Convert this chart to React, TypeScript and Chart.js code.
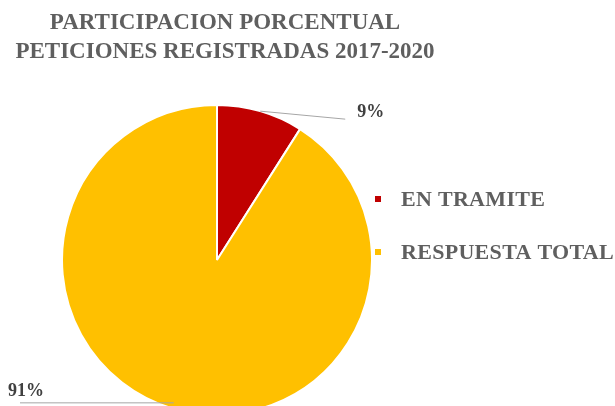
import React, { useEffect, useRef } from "react";
import { Chart, registerables } from "chart.js";

Chart.register(...registerables);

const titleLines = ["PARTICIPACION PORCENTUAL", "PETICIONES REGISTRADAS 2017-2020"];
const categories = ["EN TRAMITE", "RESPUESTA TOTAL"];
const values = [9, 91];
const colors = ["#C00000", "#FFC000"];

const FONT = "'Liberation Serif', 'DejaVu Serif', serif";

const decorPlugin = {
  id: "decor",
  afterDraw(chart: any) {
    const ctx = chart.ctx;
    ctx.save();
    // title
    ctx.fillStyle = "#5f5f5f";
    ctx.font = `bold 23px ${FONT}`;
    ctx.textAlign = "center";
    ctx.textBaseline = "middle";
    titleLines.forEach((t, i) => ctx.fillText(t, 225, 23 + i * 29));

    // legend
    ctx.font = `bold 22px ${FONT}`;
    ctx.textAlign = "left";
    categories.forEach((c, i) => {
      const y = 199 + i * 53;
      ctx.fillStyle = colors[i];
      ctx.fillRect(375, y - 3, 6, 6);
      ctx.fillStyle = "#5f5f5f";
      (ctx as any).letterSpacing = "0.3px";
      ctx.fillText(c, 401, y + 1);
      (ctx as any).letterSpacing = "0px";
    });

    // data labels with leader lines
    const meta = chart.getDatasetMeta(0);
    const total = values.reduce((a, b) => a + b, 0);
    ctx.font = `bold 18px ${FONT}`;
    meta.data.forEach((arc: any, i: number) => {
      const mid = (arc.startAngle + arc.endAngle) / 2;
      const ax = arc.x + Math.cos(mid) * arc.outerRadius;
      const ay = arc.y + Math.sin(mid) * arc.outerRadius;
      const pct = Math.round((values[i] / total) * 100) + "%";
      ctx.strokeStyle = "#a6a6a6";
      ctx.lineWidth = 1;
      ctx.beginPath();
      if (i === 0) {
        ctx.moveTo(ax, ay);
        ctx.lineTo(ax + 85, ay + 8);
        ctx.stroke();
        ctx.fillStyle = "#404040";
        ctx.textAlign = "left";
        ctx.fillText(pct, ax + 97, ay + 1);
      } else {
        ctx.moveTo(ax, ay - 6);
        ctx.lineTo(20, ay - 6);
        ctx.stroke();
        ctx.fillStyle = "#404040";
        ctx.textAlign = "left";
        ctx.fillText(pct, 8, ay - 18);
      }
    });
    ctx.restore();
  },
};

export default function App() {
  const ref = useRef<HTMLCanvasElement>(null);
  useEffect(() => {
    if (!ref.current) return;
    const chart = new Chart(ref.current, {
      type: "pie",
      data: {
        labels: categories,
        datasets: [
          {
            data: values,
            backgroundColor: colors,
            borderColor: "#ffffff",
            borderWidth: 2,
          },
        ],
      },
      options: {
        responsive: false,
        animation: false,
        devicePixelRatio: 1,
        layout: { padding: { top: 104, bottom: 4, left: 0, right: 181 } },
        plugins: {
          legend: { display: false },
          title: { display: false },
          tooltip: { enabled: false },
        },
      },
      plugins: [decorPlugin],
    });
    return () => chart.destroy();
  }, []);
  return (
    <div style={{ position: "absolute", left: 0, top: 0, width: 615, height: 406, overflow: "hidden", background: "#fff" }}>
      <canvas ref={ref} width={615} height={420} style={{ width: 615, height: 420, display: "block" }} />
    </div>
  );
}
